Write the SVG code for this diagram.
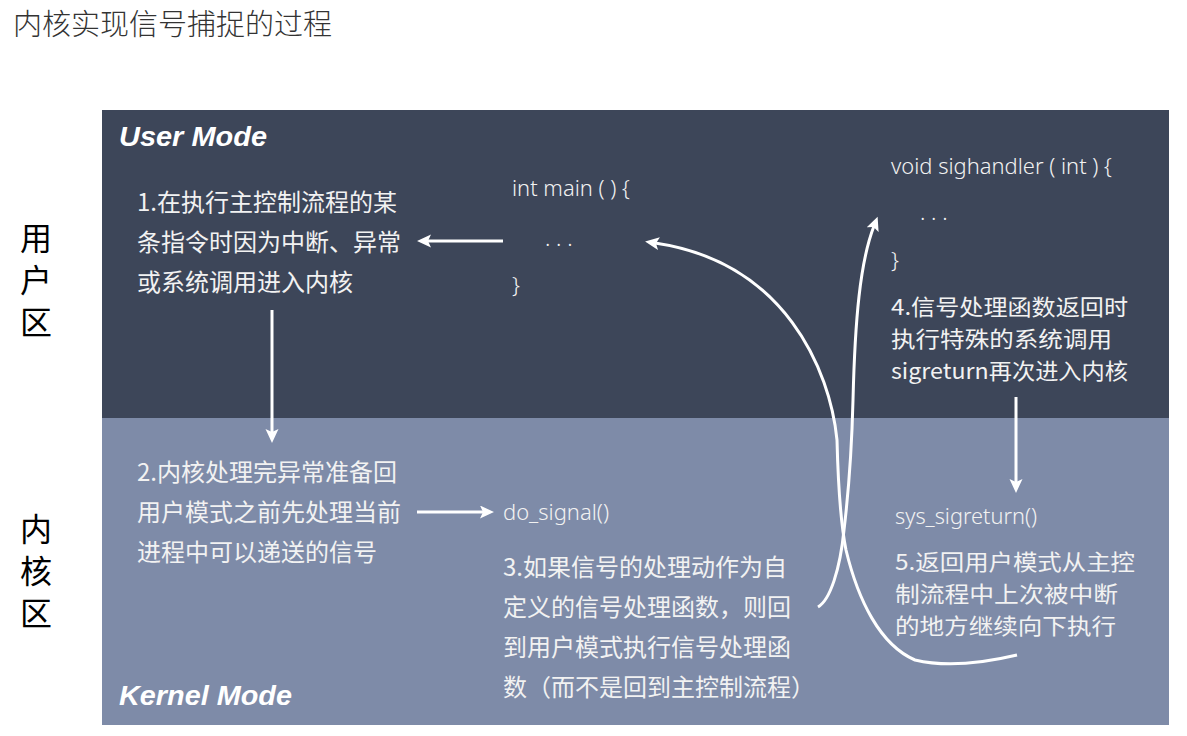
<svg xmlns="http://www.w3.org/2000/svg" width="1187" height="736" viewBox="0 0 1187 736">
<style>
.cjk{font-family:"Noto Sans CJK SC","Noto Sans",sans-serif;font-size:24px;fill:#f2f2f2}
.cjks{font-family:"Noto Sans CJK SC","Noto Sans",sans-serif;font-size:22px;fill:#f2f2f2}
.code{font-family:"Noto Sans","Noto Sans CJK SC",sans-serif;font-size:22px;fill:#f2f2f2;font-weight:300}
.mode{font-family:"Liberation Sans",Arial,sans-serif;font-size:27px;font-weight:bold;font-style:italic;fill:#ffffff}
.side{font-family:"Noto Sans CJK SC",sans-serif;font-size:32px;fill:#000;writing-mode:vertical-rl;letter-spacing:10px}
.conn{fill:none;stroke:#ffffff;stroke-width:3}
</style>
<defs>
<marker id="ah" markerUnits="userSpaceOnUse" markerWidth="16" markerHeight="14" refX="4" refY="6.5" orient="auto">
<path d="M0,0 L14,6.5 L0,13 L3,6.5 z" fill="#ffffff"/>
</marker>
</defs>
<rect width="1187" height="736" fill="#ffffff"/>
<g id="title">
<text x="13" y="35" style="font-family:'Noto Sans CJK SC',sans-serif;font-size:29px;fill:#333333;font-weight:300">内核实现信号捕捉的过程</text>
</g>
<g id="user-panel">
<rect x="102" y="110" width="1067" height="308" fill="#3d4659"/>
<text class="mode" x="119" y="146" textLength="148" lengthAdjust="spacingAndGlyphs">User Mode</text>
</g>
<g id="kernel-panel">
<rect x="102" y="418" width="1067" height="307" fill="#7e8ba8"/>
<text class="mode" x="119" y="705" textLength="173" lengthAdjust="spacingAndGlyphs">Kernel Mode</text>
</g>
<g id="label-user">
<text class="side" x="36" y="222">用户区</text>
</g>
<g id="label-kernel">
<text class="side" x="36" y="513">内核区</text>
</g>
<g id="step1">
<text class="cjk" x="137" y="211">1.在执行主控制流程的某</text>
<text class="cjk" x="137" y="251">条指令时因为中断、异常</text>
<text class="cjk" x="137" y="291">或系统调用进入内核</text>
</g>
<g id="main">
<text class="code" x="512" y="196" textLength="118" lengthAdjust="spacingAndGlyphs">int main ( ) {</text>
<text class="code" x="545" y="246">. . .</text>
<text class="code" x="512" y="293">}</text>
</g>
<g id="sighandler">
<text class="code" x="891" y="174" textLength="221" lengthAdjust="spacingAndGlyphs">void sighandler ( int ) {</text>
<text class="code" x="920" y="220">. . .</text>
<text class="code" x="891" y="268">}</text>
</g>
<g id="step4">
<text class="cjks" x="891" y="315" textLength="237" lengthAdjust="spacingAndGlyphs">4.信号处理函数返回时</text>
<text class="cjks" x="891" y="347" textLength="221" lengthAdjust="spacingAndGlyphs">执行特殊的系统调用</text>
<text class="cjks" x="891" y="379" textLength="237" lengthAdjust="spacingAndGlyphs">sigreturn再次进入内核</text>
</g>
<g id="step2">
<text class="cjk" x="137" y="481">2.内核处理完异常准备回</text>
<text class="cjk" x="137" y="521">用户模式之前先处理当前</text>
<text class="cjk" x="137" y="561">进程中可以递送的信号</text>
</g>
<g id="do-signal">
<text class="code" x="503" y="520" textLength="106" lengthAdjust="spacingAndGlyphs">do_signal()</text>
</g>
<g id="step3">
<text class="cjk" x="503" y="576">3.如果信号的处理动作为自</text>
<text class="cjk" x="503" y="616">定义的信号处理函数，则回</text>
<text class="cjk" x="503" y="656">到用户模式执行信号处理函</text>
<text class="cjk" x="503" y="696">数（而不是回到主控制流程）</text>
</g>
<g id="sys-sigreturn">
<text class="code" x="895" y="524" textLength="142" lengthAdjust="spacingAndGlyphs">sys_sigreturn()</text>
</g>
<g id="step5">
<text class="cjks" x="895" y="570" textLength="240" lengthAdjust="spacingAndGlyphs">5.返回用户模式从主控</text>
<text class="cjks" x="895" y="602" textLength="223" lengthAdjust="spacingAndGlyphs">制流程中上次被中断</text>
<text class="cjks" x="895" y="634" textLength="221" lengthAdjust="spacingAndGlyphs">的地方继续向下执行</text>
</g>
<g id="connectors">
<path class="conn" d="M503,241 L427,241" marker-end="url(#ah)"/>
<path class="conn" d="M272,310 L272,433" marker-end="url(#ah)"/>
<path class="conn" d="M417,512 L484,512" marker-end="url(#ah)"/>
<path class="conn" d="M1016,397 L1016,483" marker-end="url(#ah)"/>
<path class="conn" d="M818,607 C830,600 840,570 844,530 C850,480 852,440 853,400 C855,320 860,262 874,226" marker-end="url(#ah)"/>
<path class="conn" d="M1017,655 C975,665 940,666 915,660 C880,645 858,600 846,550 C840,520 838,480 837,440 C830,370 785,262 655,243" marker-end="url(#ah)"/>
</g>
</svg>
